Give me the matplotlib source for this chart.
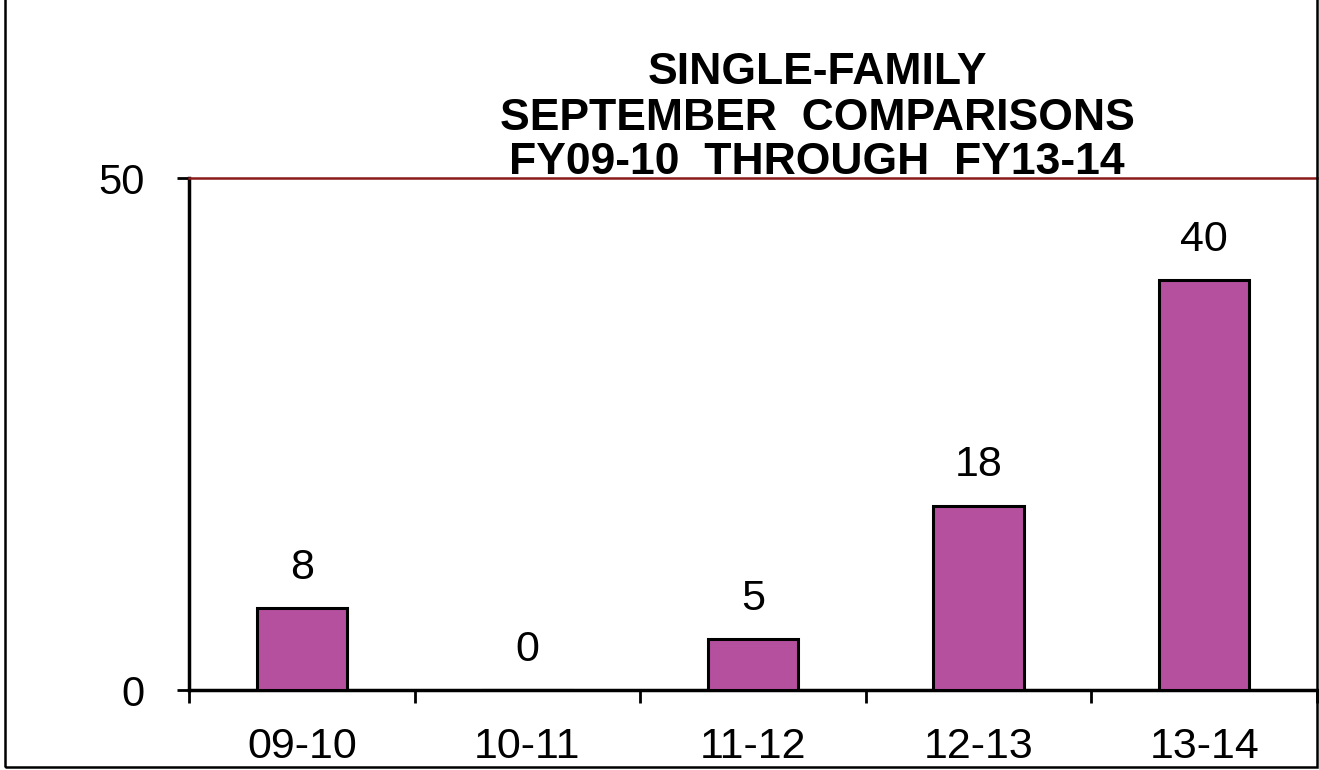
import numpy as np
import matplotlib
matplotlib.use('Agg')
import matplotlib.pyplot as plt
from matplotlib.patches import Rectangle

plt.rcParams['font.family'] = ['Liberation Sans', 'DejaVu Sans']

# data
years = ['09-10', '10-11', '11-12', '12-13', '13-14']
counts = [8, 0, 5, 18, 40]
title_lines = ['SINGLE-FAMILY', 'SEPTEMBER  COMPARISONS', 'FY09-10  THROUGH  FY13-14']

fig = plt.figure(figsize=(13.19, 7.70), dpi=100)
ax = fig.add_axes([189/1319, 1 - 690/770, (1317 - 189)/1319, (690 - 178)/770])

x = np.arange(len(years))
ax.bar(x, counts, width=0.4, color='#B5509F', edgecolor='black', linewidth=2.2, zorder=3)

for xi, v in zip(x, counts):
    ax.annotate(str(v), (xi, v), xytext=(0, 29), textcoords='offset points',
                ha='center', va='center', fontsize=31)

ax.set_xlim(-0.5, len(years) - 0.5)
ax.set_ylim(0, 50)
ax.set_yticks([0, 50])
ax.set_yticklabels(['0', '50'], fontsize=30)
ax.set_xticks(x)
ax.set_xticklabels(years, fontsize=31)
ax.set_xticks(np.arange(-0.5, len(years)), minor=True)
ax.tick_params(axis='x', which='major', length=0, pad=27)
ax.tick_params(axis='x', which='minor', length=9, width=2, direction='out')
ax.tick_params(axis='y', length=9, width=2, pad=23)

for s in ['left', 'bottom']:
    ax.spines[s].set_linewidth(2.5)
ax.spines['right'].set_visible(False)
ax.spines['top'].set_color('#8B1A1A')
ax.spines['top'].set_linewidth(1.8)

for i, line in enumerate(title_lines):
    fig.text(817/1319, 1 - (73 + 45*i)/770, line, ha='center', va='center',
             fontsize=32, fontweight='bold')

# outer frame
fig.patches.append(Rectangle((5/1319, 3/770), (1317 - 5)/1319, 1.0, transform=fig.transFigure,
                             fill=False, edgecolor='black', linewidth=1.8))

fig.savefig('out.png', dpi=100)
